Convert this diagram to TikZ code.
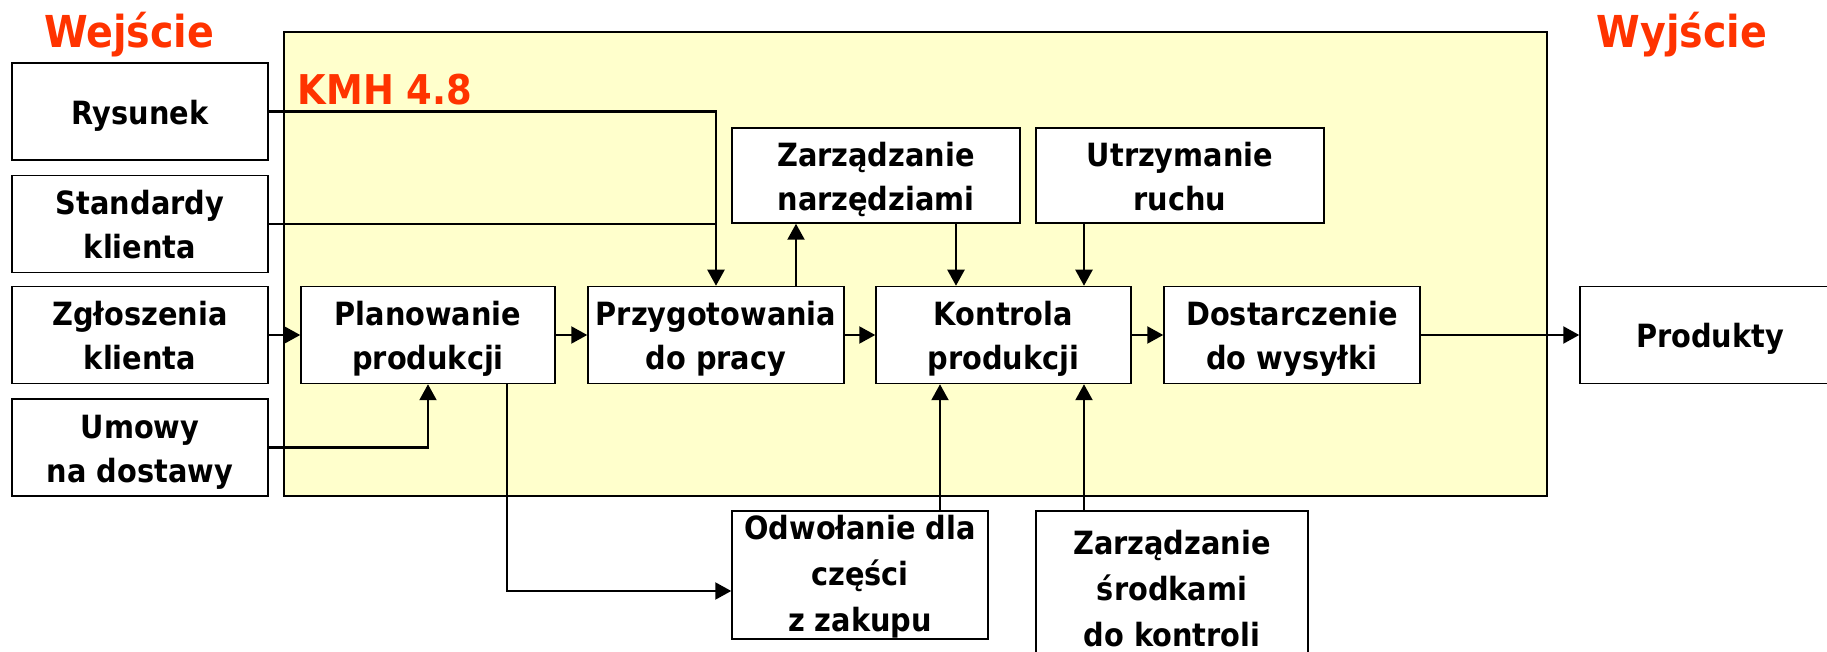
\documentclass[tikz,border=0pt]{standalone}
\usepackage{fontspec}
\usetikzlibrary{arrows.meta}
\newfontfamily\lab{DejaVu Sans Condensed Bold}
\definecolor{titlered}{HTML}{FF3300}
\definecolor{paleyellow}{HTML}{FFFFCC}
\newcommand\tsr{\rule{0pt}{18pt}}
\newcommand\bsr{\rule[-5pt]{0pt}{5pt}}
\newcommand\tsrs{\rule{0pt}{14pt}}
\newcommand\bsrs{\rule[-4pt]{0pt}{4pt}}
\begin{document}
\begin{tikzpicture}[x=0.5pt,y=-0.5pt,
  box/.style={draw=black, line width=0.75pt, fill=white, align=center, inner sep=0pt,
    font=\lab\fontsize{16}{22}\selectfont, minimum width=128pt, minimum height=48.5pt},
  tall/.style={font=\lab\fontsize{16}{23}\selectfont},
  arr/.style={line width=1.1pt, -{Triangle[length=8pt,width=8.5pt]}},
  ln/.style={line width=1.1pt},
  title/.style={font=\lab\fontsize{22}{26}\selectfont, text=titlered, anchor=base, inner sep=0pt}]
\useasboundingbox (0,0) rectangle (1827,652);
\fill[white] (0,0) rectangle (1827,652);
% main frame
\draw[line width=0.75pt, fill=paleyellow] (284,32) rectangle (1547,496);
% titles
\node[title] (wej) at (129,48) {Wejście};
\node[title] (wyj) at (1682,48) {Wyjście};
\node[title, font=\lab\fontsize{20.5}{24}\selectfont] (kmh) at (385,105) {KMH 4.8};
% input boxes
\node[box] (rys) at (140,111.5) {\tsr Rysunek\bsr};
\node[box] (std) at (140,224) {\tsr Standardy\\klienta\bsr};
\node[box] (zgl) at (140,335) {\tsr Zgłoszenia\\klienta\bsr};
\node[box] (umo) at (140,447.5) {\tsr Umowy\\na dostawy\bsr};
% main row
\node[box, minimum width=127pt] (plan) at (428,335) {\tsr Planowanie\\produkcji\bsr};
\node[box] (prz) at (716,335) {\tsr Przygotowania\\do pracy\bsr};
\node[box, minimum width=127.5pt] (kon) at (1003.5,335) {\tsr Kontrola\\produkcji\bsr};
\node[box] (dos) at (1292,335) {\tsr Dostarczenie\\do wysyłki\bsr};
\node[box, minimum width=130pt] (prod) at (1710,335) {\tsr Produkty\bsr};
% upper boxes
\node[box, minimum width=144pt, minimum height=47.5pt] (zn) at (876,175.5) {\tsr Zarządzanie\\narzędziami\bsr};
\node[box, minimum width=144pt, minimum height=47.5pt] (ur) at (1180,175.5) {\tsr Utrzymanie\\ruchu\bsr};
% lower boxes
\node[box, tall, minimum width=128pt, minimum height=64pt] (odw) at (860,575) {\tsrs Odwołanie dla\\części\\z zakupu\bsrs};
\node[box, tall, minimum width=136pt, minimum height=76pt] (zs) at (1172,587) {\tsr Zarządzanie\\środkami\\do kontroli\bsr};
% connectors
\draw[arr] (rys.east) -| (prz.north);
\draw[ln] (std.east) -- (std.east -| prz.north);
\draw[arr] (zgl) -- (plan);
\draw[arr] (umo.east) -| (plan.south);
\draw[arr] (plan) -- (prz);
\draw[arr] (prz) -- (kon);
\draw[arr] (kon) -- (dos);
\draw[arr] (dos) -- (prod);
\draw[arr] ([xshift=40pt]prz.north) -- ([xshift=40pt]prz.north |- zn.south);
\draw[arr] ([xshift=40pt]zn.south) -- ([xshift=40pt]zn.south |- kon.north);
\draw[arr] ([xshift=-48pt]ur.south) -- ([xshift=-48pt]ur.south |- kon.north);
\draw[arr] ([xshift=40pt]odw.north) -- ([xshift=40pt]odw.north |- kon.south);
\draw[arr] ([xshift=-44pt]zs.north) -- ([xshift=-44pt]zs.north |- kon.south);
\draw[arr] ([xshift=39.5pt]plan.south) |- ([yshift=-8pt]odw.west);
\end{tikzpicture}
\end{document}
